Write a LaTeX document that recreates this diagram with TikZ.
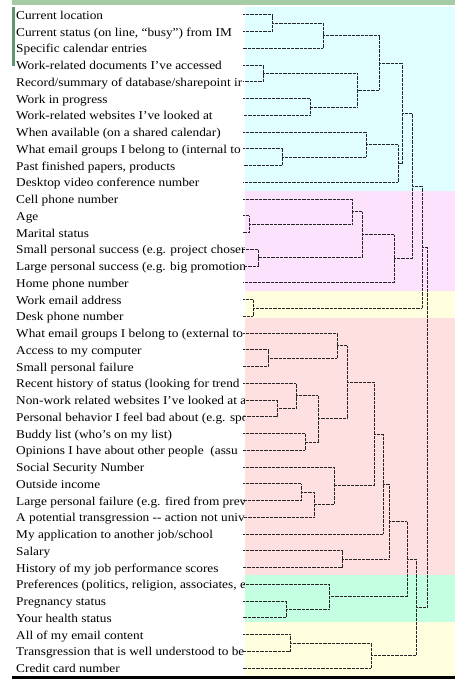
\documentclass[tikz,border=0pt]{standalone}
\usepackage{fontspec}
\setmainfont{Liberation Serif}[FakeStretch=1.11]
\usepackage{xcolor}
\definecolor{headgreen}{RGB}{166,204,166}
\definecolor{bargreen}{RGB}{96,150,110}
\definecolor{bandcyan}{RGB}{224,254,255}
\definecolor{bandpink}{RGB}{253,226,253}
\definecolor{bandyellow}{RGB}{255,255,224}
\definecolor{bandred}{RGB}{255,224,225}
\definecolor{bandgreen}{RGB}{196,255,226}

\begin{document}
\begin{tikzpicture}[x=1pt,y=-1pt]

		\tikzset{leaf/.style = {anchor=base west,inner sep=0pt,yshift=-4.6pt,font=\fontsize{12}{12}\selectfont}}
		\tikzset{edge/.style = {-,line width=0.65pt,dash pattern=on 0.6pt off 0.7pt,black!85}}
		\useasboundingbox (0,0) rectangle (455,679);
		%sheet
		\fill[headgreen] (12,0) rectangle (455,5.5);
		\fill[bargreen] (12.3,7) rectangle (15,66);
		\fill[black] (12,676) rectangle (455,679);
		%labels
		\node[leaf] (0) at (16,14.7) {Current location};
		\node[leaf] (1) at (16,31.45) {Current status (on line, “busy”) from IM};
		\node[leaf] (2) at (16,48.2) {Specific calendar entries};
		\node[leaf] (3) at (16,64.95) {Work-related documents I've accessed};
		\node[leaf] (4) at (16,81.7) {Record/summary of database/sharepoint ir};
		\node[leaf] (5) at (16,98.45) {Work in progress};
		\node[leaf] (6) at (16,115.2) {Work-related websites I've looked at};
		\node[leaf] (7) at (16,131.95) {When available (on a shared calendar)};
		\node[leaf] (8) at (16,148.7) {What email groups I belong to (internal to};
		\node[leaf] (9) at (16,165.45) {Past finished papers, products};
		\node[leaf] (10) at (16,182.2) {Desktop video conference number};
		\node[leaf] (11) at (16,198.95) {Cell phone number};
		\node[leaf] (12) at (16,215.7) {Age};
		\node[leaf] (13) at (16,232.45) {Marital status};
		\node[leaf] (14) at (16,249.2) {Small personal success (e.g. project chosen};
		\node[leaf] (15) at (16,265.95) {Large personal success (e.g. big promotion};
		\node[leaf] (16) at (16,282.7) {Home phone number};
		\node[leaf] (17) at (16,299.45) {Work email address};
		\node[leaf] (18) at (16,316.2) {Desk phone number};
		\node[leaf] (19) at (16,332.95) {What email groups I belong to (external to};
		\node[leaf] (20) at (16,349.7) {Access to my computer};
		\node[leaf] (21) at (16,366.45) {Small personal failure};
		\node[leaf] (22) at (16,383.2) {Recent history of status (looking for trend};
		\node[leaf] (23) at (16,399.95) {Non-work related websites I've looked at a};
		\node[leaf] (24) at (16,416.7) {Personal behavior I feel bad about (e.g. spo};
		\node[leaf] (25) at (16,433.45) {Buddy list (who’s on my list)};
		\node[leaf] (26) at (16,450.2) {Opinions I have about other people \ (assu};
		\node[leaf] (27) at (16,466.95) {Social Security Number};
		\node[leaf] (28) at (16,483.7) {Outside income};
		\node[leaf] (29) at (16,500.45) {Large personal failure (e.g. fired from prev};
		\node[leaf] (30) at (16,517.2) {A potential transgression -{}- action not univ};
		\node[leaf] (31) at (16,533.95) {My application to another job/school};
		\node[leaf] (32) at (16,550.7) {Salary};
		\node[leaf] (33) at (16,567.45) {History of my job performance scores};
		\node[leaf] (34) at (16,584.2) {Preferences (politics, religion, associates, e};
		\node[leaf] (35) at (16,600.95) {Pregnancy status};
		\node[leaf] (36) at (16,617.7) {Your health status};
		\node[leaf] (37) at (16,634.45) {All of my email content};
		\node[leaf] (38) at (16,651.2) {Transgression that is well understood to be};
		\node[leaf] (39) at (16,667.95) {Credit card number};
		%bands
		\fill[bandcyan] (245,7.5) rectangle (455,190.5);
		\fill[bandpink] (245,190.5) rectangle (455,291);
		\fill[bandyellow] (245,291) rectangle (455,318.3);
		\fill[bandred] (245,318.3) rectangle (455,575);
		\fill[bandgreen] (245,575) rectangle (455,621.7);
		\fill[bandyellow] (245,621.7) rectangle (455,676);
		%leaf ends
		\foreach \i in {0,...,39} \coordinate (p\i) at (243,14.7+16.75*\i);
		%clusters
		\coordinate (c1) at (272,23.08);
		\coordinate (c2) at (323,35.64);
		\coordinate (c3) at (263,73.33);
		\coordinate (c4) at (310,106.83);
		\coordinate (c5) at (357,90.08);
		\coordinate (c6) at (379,62.86);
		\coordinate (c7) at (282,157.08);
		\coordinate (c8) at (366,144.52);
		\coordinate (c9) at (398,163.36);
		\coordinate (c10) at (402,113.11);
		\coordinate (c11) at (249,224.08);
		\coordinate (c12) at (352,211.5);
		\coordinate (c13) at (258,257.58);
		\coordinate (c14) at (362,234.54);
		\coordinate (c15) at (394,258.62);
		\coordinate (c16) at (412,185.86);
		\coordinate (c17) at (253,307.83);
		\coordinate (c18) at (422,246.85);
		\coordinate (c19) at (268,358.08);
		\coordinate (c20) at (337,345.5);
		\coordinate (c21) at (277,408.33);
		\coordinate (c22) at (296,395.77);
		\coordinate (c23) at (305,441.83);
		\coordinate (c24) at (318,418.8);
		\coordinate (c25) at (347,382.15);
		\coordinate (c26) at (301,492.08);
		\coordinate (c27) at (314,504.64);
		\coordinate (c28) at (334,485.8);
		\coordinate (c29) at (374,433.98);
		\coordinate (c30) at (383,483.96);
		\coordinate (c31) at (342,559.08);
		\coordinate (c32) at (389,521.52);
		\coordinate (c33) at (286,609.33);
		\coordinate (c34) at (329,596.76);
		\coordinate (c35) at (407,559.14);
		\coordinate (c36) at (290,642.83);
		\coordinate (c37) at (371,655.39);
		\coordinate (c38) at (416,607.26);
		\coordinate (c39) at (427,427.05);
		%edges
		\draw[edge] (p0) -| (c1) |- (p1);
		\draw[edge] (c1) -| (c2) |- (p2);
		\draw[edge] (p3) -| (c3) |- (p4);
		\draw[edge] (p5) -| (c4) |- (p6);
		\draw[edge] (c3) -| (c5) |- (c4);
		\draw[edge] (c2) -| (c6) |- (c5);
		\draw[edge] (p8) -| (c7) |- (p9);
		\draw[edge] (p7) -| (c8) |- (c7);
		\draw[edge] (c8) -| (c9) |- (p10);
		\draw[edge] (c6) -| (c10) |- (c9);
		\draw[edge] (p12) -| (c11) |- (p13);
		\draw[edge] (p11) -| (c12) |- (c11);
		\draw[edge] (p14) -| (c13) |- (p15);
		\draw[edge] (c12) -| (c14) |- (c13);
		\draw[edge] (c14) -| (c15) |- (p16);
		\draw[edge] (c10) -| (c16) |- (c15);
		\draw[edge] (p17) -| (c17) |- (p18);
		\draw[edge] (c16) -| (c18) |- (c17);
		\draw[edge] (p20) -| (c19) |- (p21);
		\draw[edge] (p19) -| (c20) |- (c19);
		\draw[edge] (p23) -| (c21) |- (p24);
		\draw[edge] (p22) -| (c22) |- (c21);
		\draw[edge] (p25) -| (c23) |- (p26);
		\draw[edge] (c22) -| (c24) |- (c23);
		\draw[edge] (c20) -| (c25) |- (c24);
		\draw[edge] (p28) -| (c26) |- (p29);
		\draw[edge] (c26) -| (c27) |- (p30);
		\draw[edge] (p27) -| (c28) |- (c27);
		\draw[edge] (c25) -| (c29) |- (c28);
		\draw[edge] (c29) -| (c30) |- (p31);
		\draw[edge] (p32) -| (c31) |- (p33);
		\draw[edge] (c30) -| (c32) |- (c31);
		\draw[edge] (p35) -| (c33) |- (p36);
		\draw[edge] (p34) -| (c34) |- (c33);
		\draw[edge] (c32) -| (c35) |- (c34);
		\draw[edge] (p37) -| (c36) |- (p38);
		\draw[edge] (c36) -| (c37) |- (p39);
		\draw[edge] (c35) -| (c38) |- (c37);
		\draw[edge] (c18) -| (c39) |- (c38);
\end{tikzpicture}
\end{document}
